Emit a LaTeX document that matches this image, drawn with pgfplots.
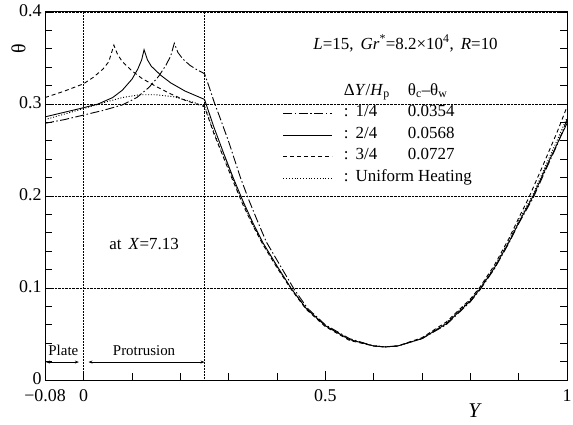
\documentclass[border=0pt]{standalone}
\usepackage{fontspec}
\setmainfont{Liberation Serif}
\usepackage{pgfplots}
\pgfplotsset{compat=1.18}
\usetikzlibrary{arrows.meta}
\begin{document}
\begin{tikzpicture}
\begin{axis}[
  scale only axis,
  width=522bp, height=368bp,
  xmin=-0.08, xmax=1, ymin=0, ymax=0.4,
  xtick={-0.08,0,0.5,1},
  xticklabels={−0.08,0,0.5,1},
  minor xtick={0.1,0.2,0.3,0.4,0.6,0.7,0.8,0.9},
  ytick={0,0.1,0.2,0.3,0.4},
  yticklabels={0,0.1,0.2,0.3,0.4},
  minor y tick num=4,
  xtick pos=bottom,
  ytick pos=both,
  tick align=inside,
  major tick length=9bp,
  minor tick length=7bp,
  every tick/.style={black, line width=0.8pt},
  axis line style={line width=1pt},
  ymajorgrids=true,
  grid style={black, densely dotted, line width=0.5pt},
  tick label style={font=\fontsize{18}{18}\selectfont},
  xticklabel style={yshift=-6bp},
  yticklabel style={yshift=1bp},
  /pgf/number format/assume math mode=true,
  xlabel={\textit{Y}},
  xlabel style={at={(axis cs:0.81,0)}, anchor=north, yshift=-20bp, font=\fontsize{21}{21}\selectfont},
  ylabel={θ},
  ylabel style={at={(rel axis cs:0,0.9)}, anchor=south, yshift=16bp, font=\fontsize{20}{20}\selectfont},
  legend style={draw=none, fill=none, at={(axis cs:0.412,0.3245)}, anchor=north west,
    font=\fontsize{17}{17}\selectfont, row sep=0pt, inner sep=0pt,
    nodes={inner sep=0pt, text height=13.5bp, text depth=8bp},
    row 1/.style={nodes={text depth=14.5bp}}},
  legend cell align=left,
  legend image code/.code={\draw[#1] (0bp,0bp) -- (49bp,0bp);},
]
\coordinate (bbsw) at (rel axis cs:0,0);
\coordinate (bbne) at (rel axis cs:1,1);

\addlegendimage{empty legend}
\addlegendentry{\hspace{11bp}\makebox[64bp][l]{Δ\textit{Y}/\textit{H}\textsubscript{p}}θ\textsubscript{c}–θ\textsubscript{w}}

% 1/4 dash-dot
\addplot[black, line width=0.9pt, dash pattern=on 9bp off 2.5bp on 1.5bp off 2.5bp] coordinates {
(-0.08,0.279) (-0.04,0.283) (0,0.288) (0.04,0.293) (0.08,0.299) (0.11,0.307) (0.135,0.318)
(0.155,0.330) (0.17,0.342) (0.18,0.352) (0.1875,0.366) (0.195,0.356) (0.205,0.349)
(0.22,0.342) (0.235,0.337) (0.25,0.333)
(0.26,0.318) (0.27,0.302) (0.28,0.288) (0.30,0.259) (0.325,0.219) (0.343,0.194) (0.361,0.171)
(0.378,0.150) (0.407,0.124) (0.435,0.099) (0.463,0.078) (0.50,0.060) (0.55,0.045) (0.60,0.037) (0.625,0.036)
(0.65,0.037) (0.70,0.045) (0.75,0.060) (0.80,0.085) (0.82,0.098) (0.85,0.121) (0.88,0.149)
(0.90,0.170) (0.93,0.198) (0.96,0.233) (0.98,0.256) (1.00,0.283)
};
\addlegendentry{\hspace{11bp}\makebox[64bp][l]{:\hspace{7bp}1/4}0.0354}

% 2/4 solid
\addplot[black, line width=0.9pt] coordinates {
(-0.08,0.286) (-0.04,0.291) (0,0.296) (0.03,0.300) (0.06,0.307) (0.08,0.315) (0.10,0.327)
(0.112,0.338) (0.12,0.348) (0.125,0.359) (0.132,0.348) (0.14,0.341) (0.16,0.331) (0.18,0.323)
(0.21,0.314) (0.25,0.305)
(0.27,0.274) (0.29,0.246) (0.31,0.219) (0.33,0.194) (0.35,0.171) (0.37,0.150) (0.40,0.124)
(0.43,0.099) (0.46,0.078) (0.50,0.059) (0.55,0.044) (0.60,0.037) (0.625,0.036) (0.65,0.037)
(0.70,0.045) (0.75,0.061) (0.80,0.086) (0.82,0.099) (0.85,0.122) (0.88,0.150) (0.90,0.171)
(0.93,0.200) (0.96,0.235) (0.98,0.257) (1.00,0.279)
};
\addlegendentry{\hspace{11bp}\makebox[64bp][l]{:\hspace{7bp}2/4}0.0568}

% 3/4 dashed
\addplot[black, line width=0.9pt, dash pattern=on 4bp off 3bp] coordinates {
(-0.08,0.307) (-0.04,0.314) (0,0.322) (0.02,0.329) (0.04,0.338) (0.052,0.346) (0.0625,0.364)
(0.07,0.354) (0.08,0.346) (0.10,0.336) (0.12,0.328) (0.15,0.319) (0.18,0.311) (0.21,0.304)
(0.25,0.297)
(0.27,0.267) (0.29,0.241) (0.31,0.215) (0.33,0.190) (0.35,0.168) (0.37,0.148) (0.40,0.122)
(0.43,0.098) (0.46,0.077) (0.50,0.058) (0.55,0.043) (0.60,0.037) (0.62,0.036) (0.65,0.037)
(0.70,0.046) (0.75,0.063) (0.80,0.088) (0.82,0.101) (0.85,0.125) (0.88,0.154) (0.90,0.176)
(0.92,0.197) (0.95,0.233) (0.98,0.270) (1.00,0.297)
};
\addlegendentry{\hspace{11bp}\makebox[64bp][l]{:\hspace{7bp}3/4}0.0727}

% uniform dotted
\addplot[black, line width=0.9pt, dash pattern=on 1bp off 1.8bp] coordinates {
(-0.08,0.283) (-0.04,0.289) (0,0.295) (0.045,0.302) (0.08,0.307) (0.115,0.310) (0.15,0.310)
(0.185,0.308) (0.22,0.303) (0.25,0.298)
(0.27,0.269) (0.29,0.243) (0.31,0.217) (0.33,0.192) (0.35,0.169) (0.37,0.149) (0.40,0.123)
(0.43,0.099) (0.46,0.078) (0.50,0.059) (0.55,0.044) (0.60,0.037) (0.625,0.036) (0.65,0.037)
(0.70,0.045) (0.75,0.062) (0.80,0.087) (0.82,0.100) (0.85,0.123) (0.88,0.152) (0.90,0.173)
(0.93,0.202) (0.96,0.238) (0.98,0.261) (1.00,0.285)
};
\addlegendentry{\hspace{11bp}:\hspace{7bp}Uniform Heating}

\draw[black, densely dotted, line width=0.5pt] (axis cs:0,0) -- (axis cs:0,0.4);
\draw[black, densely dotted, line width=0.5pt] (axis cs:0.25,0) -- (axis cs:0.25,0.4);

\node[font=\fontsize{17}{17}\selectfont] at (axis cs:0.666,0.366)
  {\textit{L}=15,\, \textit{Gr}\textsuperscript{*}=8.2×10\textsuperscript{4},\, \textit{R}=10};
\node[font=\fontsize{17}{17}\selectfont] at (axis cs:0.125,0.148) {at\, \textit{X}=7.13};

\draw[{Stealth[length=4bp,width=3bp]}-{Stealth[length=4bp,width=3bp]}, line width=0.8pt]
  (axis cs:-0.078,0.0195) -- (axis cs:-0.01,0.0195);
\draw[{Stealth[length=4bp,width=3bp]}-{Stealth[length=4bp,width=3bp]}, line width=0.8pt]
  (axis cs:0.01,0.0195) -- (axis cs:0.25,0.0195);
\node[font=\fontsize{15}{15}\selectfont] at (axis cs:-0.042,0.032) {Plate};
\node[font=\fontsize{15}{15}\selectfont] at (axis cs:0.125,0.032) {Protrusion};
\end{axis}
\pgfresetboundingbox
\path ([shift={(-45bp,-45bp)}]bbsw) rectangle ([shift={(6bp,12bp)}]bbne);
\end{tikzpicture}
\end{document}
